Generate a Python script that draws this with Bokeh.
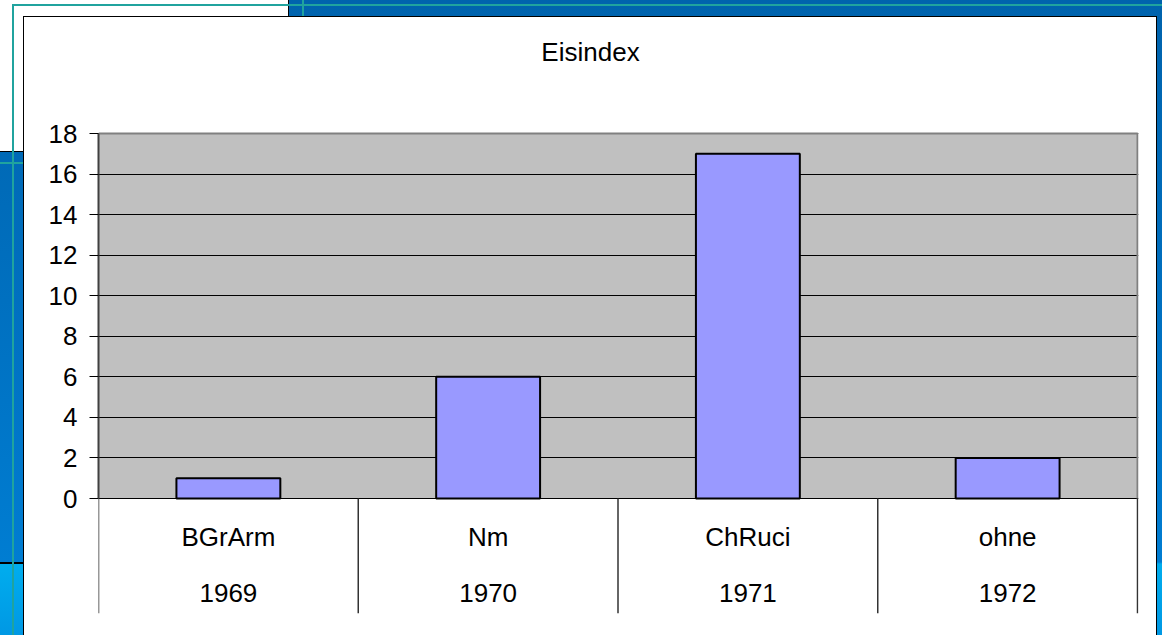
from bokeh.plotting import figure
from bokeh.models import FixedTicker, Range1d, ColumnDataSource
from bokeh.core.properties import value
from bokeh.embed import file_html
from bokeh.resources import INLINE

# ---- data ----
title_text = "Eisindex"
categories = ["BGrArm", "Nm", "ChRuci", "ohne"]
years = ["1969", "1970", "1971", "1972"]
values = [1, 6, 17, 2]
yticks = [0, 2, 4, 6, 8, 10, 12, 14, 16, 18]

# ---- layout constants (page pixels) ----
W, H = 1162, 635
PLOT_L, PLOT_R = 98, 1137      # plot-area left / right
PLOT_T, ZERO_Y = 133, 498      # y of the top value and of 0
FRAME_T, FRAME_B, FRAME_R = 20, 613, 1138
n = len(categories)
ymax = yticks[-1]
ppu = (ZERO_Y - PLOT_T) / ymax
ppc = (PLOT_R - PLOT_L) / n
y_end = ymax + (PLOT_T - FRAME_T) / ppu
y_start = -(FRAME_B - ZERO_Y) / ppu
x_end = n + (FRAME_R - PLOT_R) / ppc

FONT = "Liberation Sans"
FS = "26px"

p = figure(width=W, height=H, output_backend="svg", toolbar_location=None,
           x_range=Range1d(0, x_end), y_range=Range1d(y_start, y_end),
           x_axis_location=None, min_border_left=PLOT_L, min_border_right=W - FRAME_R,
           min_border_top=FRAME_T, min_border_bottom=H - FRAME_B)
p.outline_line_color = None
p.background_fill_color = "white"
p.border_fill_alpha = 0
p.xgrid.visible = False

teal = "#20a39e"
layers = [
    f"linear-gradient({teal},{teal}) 12px 4px/2px 100% no-repeat",
    f"linear-gradient({teal},{teal}) 12px 4px/100% 2px no-repeat",
    f"linear-gradient({teal},{teal}) 302px 0/2px 16px no-repeat",
    f"linear-gradient({teal},{teal}) 0 162px/23px 2px no-repeat",
    "linear-gradient(#000,#000) 0 562px/23px 2px no-repeat",
    "linear-gradient(#000,#000) 23px 16px/1134px 1px no-repeat",
    "linear-gradient(#000,#000) 23px 16px/1px 100% no-repeat",
    "linear-gradient(#000,#000) 1156px 16px/1px 100% no-repeat",
    "linear-gradient(#000,#000) 288px 0/1px 16px no-repeat",
    "linear-gradient(#000,#000) 0 151px/23px 1px no-repeat",
    "linear-gradient(#fff,#fff) 23px 16px/1133px 100% no-repeat",
    "linear-gradient(#fff,#fff) 0 0/288px 16px no-repeat",
    "linear-gradient(#fff,#fff) 0 0/23px 151px no-repeat",
    "linear-gradient(to bottom,#0063ad 0px,#0070c0 300px,#007dd2 562px,#00adee 564px,#0098e4 635px)",
]
p.styles = {"background": ", ".join(layers)}

# y axis
p.yaxis.ticker = FixedTicker(ticks=yticks)
p.yaxis.bounds = (yticks[0], yticks[-1])
p.yaxis.axis_line_color = "#404040"
p.yaxis.axis_line_width = 2
p.yaxis.major_tick_out = 9
p.yaxis.major_tick_in = 0
p.yaxis.major_tick_line_color = "black"
p.yaxis.minor_tick_line_color = None
p.yaxis.major_label_text_font = FONT
p.yaxis.major_label_text_font_size = FS
p.yaxis.major_label_text_color = "black"
p.yaxis.major_label_standoff = 12

# grey plot area (drawn beneath the grid)
p.quad(left=[0], right=[n], bottom=[0], top=[ymax], fill_color="#C0C0C0",
       line_color=None, level="image")
p.ygrid.grid_line_color = "black"
p.ygrid.grid_line_width = 1

# plot-area border (top and right)
p.line(x=[0, n, n], y=[ymax, ymax, 0], line_color="#808080", line_width=2)

# separators of the category axis
sep_x = list(range(n + 1))
p.segment(x0=sep_x, x1=sep_x, y0=[y_start] * len(sep_x), y1=[0] * len(sep_x),
          line_color="#333333", line_width=1.5)

# bars
xs = [i + 0.5 for i in range(n)]
src = ColumnDataSource(dict(x=xs, top=values, cat=categories, year=years))
p.vbar(x="x", top="top", bottom=0, width=0.4, source=src,
       fill_color="#9999FF", line_color="black", line_width=2)

# category labels
row1 = -(536.5 - ZERO_Y) / ppu
row2 = -(592 - ZERO_Y) / ppu
p.text(x="x", y=row1, text="cat", source=src, text_align="center", text_baseline="middle",
       text_font=value(FONT), text_font_size=FS, text_color="black")
p.text(x="x", y=row2, text="year", source=src, text_align="center", text_baseline="middle",
       text_font=value(FONT), text_font_size=FS, text_color="black")

# title
title_x = (590 - PLOT_L) / ppc
title_y = ymax + (PLOT_T - 51) / ppu
p.text(x=[title_x], y=[title_y], text=[title_text], text_align="center", text_baseline="middle",
       text_font=value(FONT), text_font_size=FS, text_color="black")

open("out.html", "w").write(file_html(p, INLINE))
